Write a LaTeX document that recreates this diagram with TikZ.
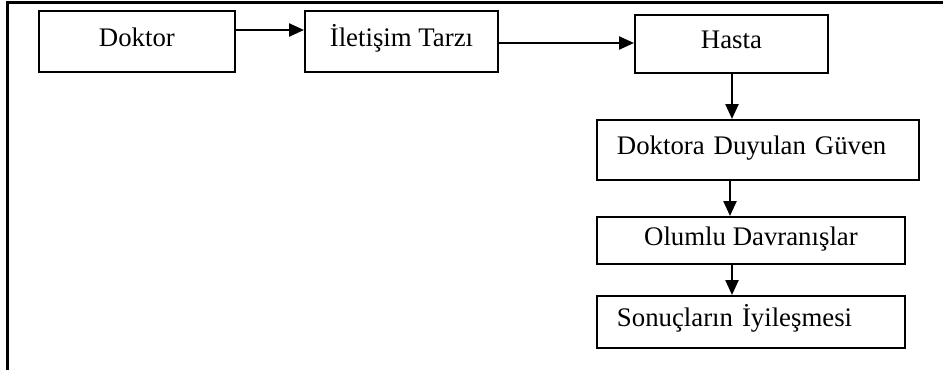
\documentclass[tikz,border=0pt]{standalone}
\usepackage{fontspec}
\setmainfont{Liberation Serif}
\usetikzlibrary{arrows.meta}
\begin{document}
\begin{tikzpicture}[x=1pt,y=-1pt,
  box/.style={draw, line width=1.9pt, anchor=north west, inner sep=0pt,
    font=\fontsize{26.8}{30}\selectfont, text height=17pt, text depth=7pt},
  leftbox/.style={box, align=left, inner xsep=20pt},
  arr/.style={line width=2.4pt, -{Triangle[length=15pt,width=13pt]}},
  frame/.style={line width=3pt}]
  \useasboundingbox (0,0) rectangle (943,370);

  % outer frame: top and left edges only
  \coordinate (fbl) at (7,370);
  \coordinate (ftl) at (7,2);
  \coordinate (ftr) at (943,2);
  \draw[frame] (fbl) -- (ftl) -- (ftr);

  % boxes
  \node[box, minimum width=196pt, minimum height=61pt] (doktor) at (38,10) {Doktor};
  \node[box, minimum width=193pt, minimum height=61pt] (iletisim) at (304,10) {İletişim Tarzı};
  \node[box, minimum width=193pt, minimum height=58pt] (hasta) at (634,14) {Hasta};
  \node[leftbox, text width=282pt, minimum height=60pt] (guven) at (596,119) {Doktora Duyulan Güven};
  \node[box, minimum width=308pt, minimum height=47pt] (olumlu) at (596,216) {Olumlu Davranışlar};
  \node[leftbox, text width=268pt, minimum height=52pt] (sonuc) at (596,295) {Sonuçların İyileşmesi};

  % connectors
  \draw[arr] (doktor.east |- 0,30) -- (iletisim.west |- 0,30);
  \draw[arr] (iletisim.east |- 0,43) -- (hasta.west |- 0,43);
  \draw[arr] (hasta.south -| 732,0) -- (guven.north -| 732,0);
  \draw[arr] (guven.south -| 730,0) -- (olumlu.north -| 730,0);
  \draw[arr] (olumlu.south -| 732,0) -- (sonuc.north -| 732,0);
\end{tikzpicture}
\end{document}
